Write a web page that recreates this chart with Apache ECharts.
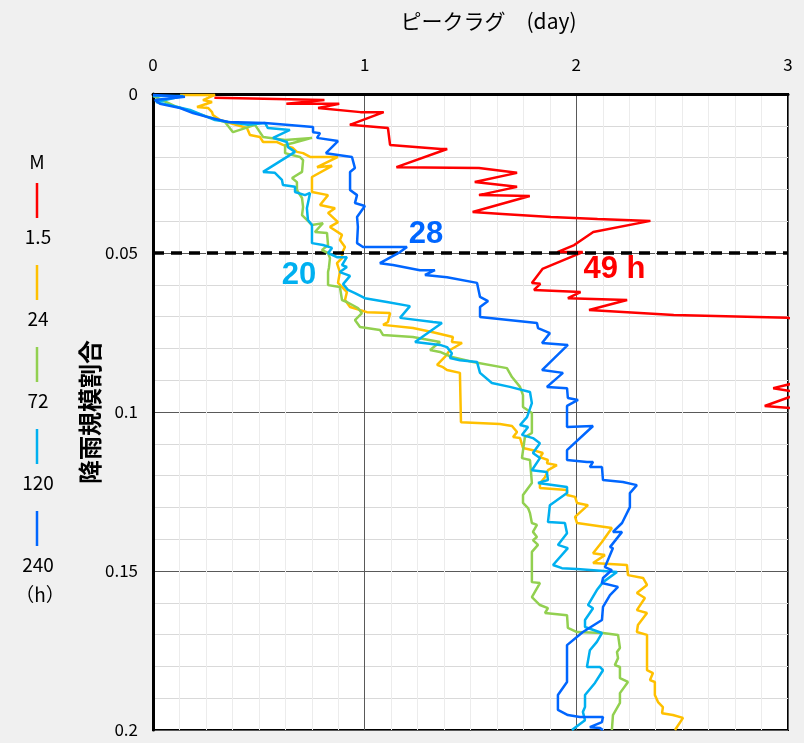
<!DOCTYPE html>
<html>
<head>
<meta charset="utf-8">
<script src="https://cdn.jsdelivr.net/npm/echarts@6/dist/echarts.min.js"></script>
<style>
html,body{margin:0;padding:0;background:#f0f0f0;}
#chart{width:804px;height:743px;}
</style>
</head>
<body>
<div id="chart"></div>
<script>
// ---- data: [peak lag (day), rainfall-scale ratio] ----
const seriesNames = ['1.5', '24', '72', '120', '240'];
const xTicks = [0, 1, 2, 3];
const yTicks = [0, 0.05, 0.1, 0.15, 0.2];

const red_1_5 = [[0.29,0.0012],[0.41,0.0013],[0.81,0.0019],[0.63,0.0031],[0.88,0.0031],[0.78,0.0044],[0.98,0.0057],[1.09,0.0057],[0.93,0.0097],[1.11,0.0107],[1.12,0.016],[1.36,0.0173],[1.39,0.0173],[1.15,0.023],[1.54,0.0233],[1.72,0.0248],[1.52,0.0277],[1.72,0.0292],[1.54,0.0318],[1.78,0.0321],[1.51,0.0371],[1.65,0.0377],[1.88,0.0387],[2.10,0.0393],[2.35,0.0399],[2.08,0.0434],[1.99,0.0475],[1.91,0.0497],[2.03,0.0497],[1.84,0.055],[1.79,0.0594],[1.83,0.0597],[1.80,0.0616],[2.02,0.0623],[1.96,0.0642],[2.24,0.0648],[2.06,0.0679],[2.46,0.0695],[3.0,0.0704],[3.6,0.078],[3.4,0.088],[3.05,0.0906],[2.93,0.0925],[3.06,0.094],[2.89,0.0981],[3.06,0.099],[3.6,0.105],[3.9,0.13]];

const orange_24 = [[0.128,0.0003],[0.293,0.0003],[0.236,0.0019],[0.279,0.0025],[0.208,0.0041],[0.260,0.0044],[0.279,0.0057],[0.283,0.0066],[0.317,0.0082],[0.364,0.0091],[0.444,0.0107],[0.458,0.0129],[0.505,0.0135],[0.520,0.0151],[0.586,0.0151],[0.614,0.0160],[0.661,0.0170],[0.680,0.0182],[0.709,0.0186],[0.742,0.0198],[0.874,0.0198],[0.775,0.0230],[0.846,0.0226],[0.751,0.0261],[0.751,0.0308],[0.827,0.0318],[0.789,0.0349],[0.860,0.0359],[0.827,0.0374],[0.874,0.0403],[0.836,0.0418],[0.893,0.0443],[0.883,0.0459],[0.907,0.0481],[0.893,0.0500],[0.893,0.0516],[0.869,0.0532],[0.883,0.0560],[0.874,0.0594],[0.916,0.0623],[0.907,0.0648],[0.931,0.0670],[1.011,0.0686],[1.120,0.0689],[1.110,0.0717],[1.087,0.0726],[1.228,0.0736],[1.323,0.0749],[1.417,0.0764],[1.412,0.0780],[1.460,0.0783],[1.403,0.0805],[1.379,0.0827],[1.342,0.0852],[1.370,0.0859],[1.389,0.0868],[1.450,0.0877],[1.455,0.1032],[1.639,0.1038],[1.696,0.1044],[1.720,0.1063],[1.701,0.1079],[1.734,0.1082],[1.748,0.1113],[1.795,0.1120],[1.842,0.1129],[1.828,0.1142],[1.866,0.1151],[1.861,0.1161],[1.908,0.1167],[1.866,0.1183],[1.852,0.1205],[1.828,0.1224],[1.828,0.1239],[1.956,0.1245],[1.956,0.1261],[1.994,0.1267],[2.003,0.1286],[2.055,0.1293],[1.994,0.1330],[2.003,0.1349],[2.168,0.1365],[2.121,0.1409],[2.079,0.1444],[2.135,0.1450],[2.079,0.1475],[2.239,0.1481],[2.244,0.1513],[2.315,0.1522],[2.334,0.1544],[2.286,0.1569],[2.324,0.1585],[2.286,0.1623],[2.334,0.1632],[2.291,0.1670],[2.286,0.1692],[2.334,0.1701],[2.334,0.1812],[2.362,0.1821],[2.348,0.1843],[2.371,0.1849],[2.371,0.1890],[2.386,0.1912],[2.409,0.1928],[2.405,0.1947],[2.456,0.1953],[2.504,0.1962],[2.466,0.2000]];

const green_72 = [[0,0.0006],[0.104,0.0038],[0.246,0.0069],[0.340,0.0088],[0.378,0.0120],[0.482,0.0097],[0.520,0.0135],[0.624,0.0145],[0.751,0.0138],[0.661,0.0154],[0.624,0.0160],[0.624,0.0186],[0.694,0.0198],[0.709,0.0208],[0.704,0.0245],[0.657,0.0264],[0.680,0.0277],[0.680,0.0302],[0.704,0.0327],[0.709,0.0355],[0.704,0.0381],[0.727,0.0396],[0.751,0.0412],[0.803,0.0406],[0.765,0.0434],[0.822,0.0437],[0.827,0.0475],[0.798,0.0491],[0.827,0.0500],[0.836,0.0516],[0.831,0.0547],[0.827,0.0560],[0.827,0.0601],[0.883,0.0607],[0.893,0.0648],[0.916,0.0654],[0.968,0.0673],[0.987,0.0689],[0.954,0.0711],[0.978,0.0733],[1.072,0.0742],[1.087,0.0758],[1.228,0.0764],[1.356,0.0780],[1.309,0.0805],[1.356,0.0811],[1.412,0.0827],[1.512,0.0843],[1.672,0.0862],[1.696,0.0890],[1.734,0.0921],[1.748,0.0947],[1.748,0.0984],[1.790,0.1003],[1.790,0.1066],[1.757,0.1079],[1.743,0.1145],[1.781,0.1151],[1.790,0.1223],[1.748,0.1261],[1.748,0.1286],[1.772,0.1302],[1.781,0.1318],[1.790,0.1349],[1.814,0.1355],[1.795,0.1377],[1.814,0.1393],[1.795,0.1403],[1.819,0.1418],[1.790,0.1440],[1.790,0.1535],[1.828,0.1538],[1.790,0.1582],[1.828,0.1607],[1.866,0.1617],[1.852,0.1632],[1.956,0.1639],[1.960,0.1679],[2.003,0.1692],[2.126,0.1695],[2.197,0.1701],[2.206,0.1742],[2.192,0.1755],[2.197,0.1774],[2.182,0.1796],[2.206,0.1802],[2.206,0.1837],[2.244,0.1849],[2.206,0.1884],[2.206,0.1915],[2.173,0.1953],[2.168,0.2000]];

const cyan_120 = [[0,0.0006],[0.142,0.0006],[0.014,0.0025],[0.175,0.0050],[0.293,0.0082],[0.449,0.0097],[0.529,0.0091],[0.543,0.0107],[0.647,0.0113],[0.567,0.0138],[0.633,0.0151],[0.638,0.0167],[0.671,0.0182],[0.520,0.0245],[0.576,0.0248],[0.609,0.0270],[0.614,0.0286],[0.671,0.0292],[0.671,0.0308],[0.718,0.0318],[0.742,0.0311],[0.727,0.0359],[0.732,0.0396],[0.751,0.0412],[0.751,0.0469],[0.803,0.0475],[0.846,0.0484],[0.827,0.0500],[0.869,0.0513],[0.916,0.0513],[0.893,0.0538],[0.916,0.0544],[0.883,0.0560],[0.931,0.0572],[0.898,0.0598],[0.921,0.0616],[0.954,0.0626],[1.001,0.0642],[1.105,0.0654],[1.214,0.0667],[1.167,0.0704],[1.323,0.0717],[1.365,0.0720],[1.238,0.0780],[1.356,0.0789],[1.389,0.0796],[1.412,0.0815],[1.403,0.0830],[1.450,0.0837],[1.531,0.0843],[1.545,0.0877],[1.601,0.0909],[1.686,0.0921],[1.781,0.0937],[1.790,0.0972],[1.767,0.1016],[1.734,0.1041],[1.772,0.1047],[1.743,0.1072],[1.795,0.1082],[1.828,0.1098],[1.795,0.1129],[1.828,0.1145],[1.790,0.1183],[1.861,0.1189],[1.866,0.1214],[1.819,0.1223],[1.956,0.1236],[1.956,0.1255],[1.875,0.1293],[1.866,0.1346],[1.946,0.1349],[1.956,0.1381],[1.913,0.1418],[1.960,0.1428],[1.890,0.1481],[1.932,0.1491],[2.003,0.1494],[2.192,0.1503],[2.126,0.1535],[2.097,0.1560],[2.055,0.1607],[2.079,0.1617],[2.041,0.1654],[2.041,0.1676],[2.121,0.1695],[2.097,0.1723],[2.064,0.1749],[2.050,0.1802],[2.112,0.1802],[2.126,0.1812],[2.088,0.1852],[2.041,0.1890],[2.041,0.1928],[2.031,0.1943],[2.041,0.1969],[1.979,0.2000]];

const blue_240 = [[0,0.0003],[0.151,0.0009],[0.009,0.0019],[0.033,0.0031],[0.128,0.0044],[0.189,0.0060],[0.255,0.0072],[0.354,0.0088],[0.529,0.0091],[0.756,0.0104],[0.756,0.0120],[0.789,0.0123],[0.775,0.0138],[0.874,0.0148],[0.817,0.0186],[0.940,0.0198],[0.954,0.0233],[0.931,0.0245],[0.931,0.0302],[0.964,0.0318],[0.954,0.0343],[1.001,0.0352],[0.964,0.0387],[0.968,0.0418],[0.964,0.0469],[0.992,0.0481],[1.200,0.0481],[1.167,0.0497],[1.072,0.0532],[1.134,0.0538],[1.261,0.0554],[1.332,0.0554],[1.285,0.0569],[1.389,0.0576],[1.531,0.0594],[1.545,0.0638],[1.583,0.0651],[1.545,0.0670],[1.545,0.0701],[1.814,0.0720],[1.819,0.0736],[1.875,0.0752],[1.838,0.0783],[1.960,0.0789],[1.838,0.0868],[1.937,0.0877],[1.861,0.0921],[1.956,0.0925],[1.960,0.0956],[2.008,0.0962],[1.956,0.0981],[1.956,0.1047],[2.079,0.1044],[1.956,0.1120],[1.956,0.1151],[2.050,0.1157],[2.079,0.1157],[2.064,0.1173],[2.121,0.1173],[2.126,0.1214],[2.220,0.1220],[2.286,0.1230],[2.253,0.1255],[2.253,0.1299],[2.216,0.1349],[2.173,0.1377],[2.216,0.1377],[2.159,0.1425],[2.173,0.1428],[2.135,0.1488],[2.168,0.1497],[2.126,0.1522],[2.121,0.1538],[2.197,0.1550],[2.159,0.1576],[2.126,0.1613],[2.121,0.1654],[2.031,0.1692],[1.956,0.1733],[1.956,0.1849],[1.913,0.1890],[1.913,0.1937],[1.960,0.1953],[2.017,0.1959],[2.126,0.1959],[2.121,0.1975],[2.064,0.1991],[2.112,0.1994],[2.126,0.2000]];

const thresholdY = 0.05;
const annotations = [
  {series: 4, text: '28', at: [1.29, 0.0443]},
  {series: 3, text: '20', at: [0.69, 0.0572]},
  {series: 0, text: '49 h', at: [2.18, 0.0553]}
];

const colors = ['#ff0000', '#ffc000', '#92d050', '#00b0f0', '#0066ff'];
const allData = [red_1_5, orange_24, green_72, cyan_120, blue_240];

const FONT = '"Noto Sans CJK JP", "Noto Sans", sans-serif';
const NUMFONT = '"Liberation Sans", Arial, sans-serif';

const chart = echarts.init(document.getElementById('chart'), null, {renderer: 'canvas'});

const series = allData.map((d, i) => {
  const s = {
    name: seriesNames[i],
    type: 'line',
    data: d,
    showSymbol: false,
    symbol: 'none',
    clip: true,
    lineStyle: {color: colors[i], width: 2.5},
    itemStyle: {color: colors[i]},
    z: 3 + i
  };
  const anns = annotations.filter(a => a.series === i);
  if (anns.length) {
    s.markPoint = {
      symbol: 'circle', symbolSize: 0, silent: true,
      data: anns.map(a => ({
        coord: a.at,
        label: {show: true, position: 'inside', formatter: a.text,
          color: colors[i], fontSize: 31, fontWeight: 'bold', fontFamily: NUMFONT}
      }))
    };
  }
  return s;
});

// dashed threshold line
series.push({
  type: 'line', data: [], silent: true, z: 10,
  markLine: {
    silent: true, symbol: 'none', label: {show: false},
    lineStyle: {color: '#000', width: 3.5, type: [11, 7]},
    data: [{yAxis: thresholdY}]
  }
});

// legend graphics (left)
const graphic = [];
graphic.push({type: 'text', x: 37, y: 162,
  style: {text: 'M', font: '19px ' + FONT, fill: '#000', textAlign: 'center', textVerticalAlign: 'middle'}});
seriesNames.forEach((n, i) => {
  const y0 = 183 + i * 82;
  graphic.push({type: 'line', shape: {x1: 37, y1: y0, x2: 37, y2: y0 + 35},
    style: {stroke: colors[i], lineWidth: 2.5}});
  graphic.push({type: 'text', x: 38, y: y0 + 54,
    style: {text: n, font: '19px ' + FONT, fill: '#000', textAlign: 'center', textVerticalAlign: 'middle'}});
});
graphic.push({type: 'text', x: 40, y: 595,
  style: {text: '（h）', font: '19px ' + FONT, fill: '#000', textAlign: 'center', textVerticalAlign: 'middle'}});

const option = {
  animation: false,
  backgroundColor: '#f0f0f0',
  grid: {left: 153, right: 16, top: 94, bottom: 13, show: true,
    backgroundColor: '#ffffff', borderColor: '#000', borderWidth: 2},
  xAxis: {
    type: 'value', position: 'top', min: xTicks[0], max: xTicks[xTicks.length - 1], interval: 1,
    name: 'ピークラグ　(day)', nameLocation: 'middle', nameGap: 62, nameMoveOverlap: false,
    nameTextStyle: {fontSize: 21, color: '#000', fontFamily: FONT, padding: [0, 0, 0, 36]},
    axisLine: {show: true, lineStyle: {color: '#000', width: 3}},
    axisTick: {show: false},
    axisLabel: {fontSize: 17, color: '#000', margin: 21, fontFamily: FONT},
    splitLine: {show: true, lineStyle: {color: '#595959', width: 1}},
    minorTick: {show: false, splitNumber: 8},
    minorSplitLine: {show: true, lineStyle: {color: '#ececec', width: 1}}
  },
  yAxis: {
    type: 'value', inverse: true, min: yTicks[0], max: yTicks[yTicks.length - 1], interval: 0.05,
    name: '降雨規模割合', nameLocation: 'middle', nameGap: 51, nameRotate: 90, nameMoveOverlap: false,
    nameTextStyle: {fontSize: 24, color: '#000', fontWeight: 'bold', fontFamily: FONT},
    axisLine: {show: true, lineStyle: {color: '#000', width: 3}},
    axisTick: {show: false},
    axisLabel: {fontSize: 17, color: '#000', margin: 15, fontFamily: FONT,
      formatter: v => String(parseFloat(v.toFixed(2)))},
    splitLine: {show: true, lineStyle: {color: '#595959', width: 1}},
    minorTick: {show: false, splitNumber: 5},
    minorSplitLine: {show: true, lineStyle: {color: '#d9d9d9', width: 1}}
  },
  graphic: graphic,
  series: series
};
chart.setOption(option);
</script>
</body>
</html>
